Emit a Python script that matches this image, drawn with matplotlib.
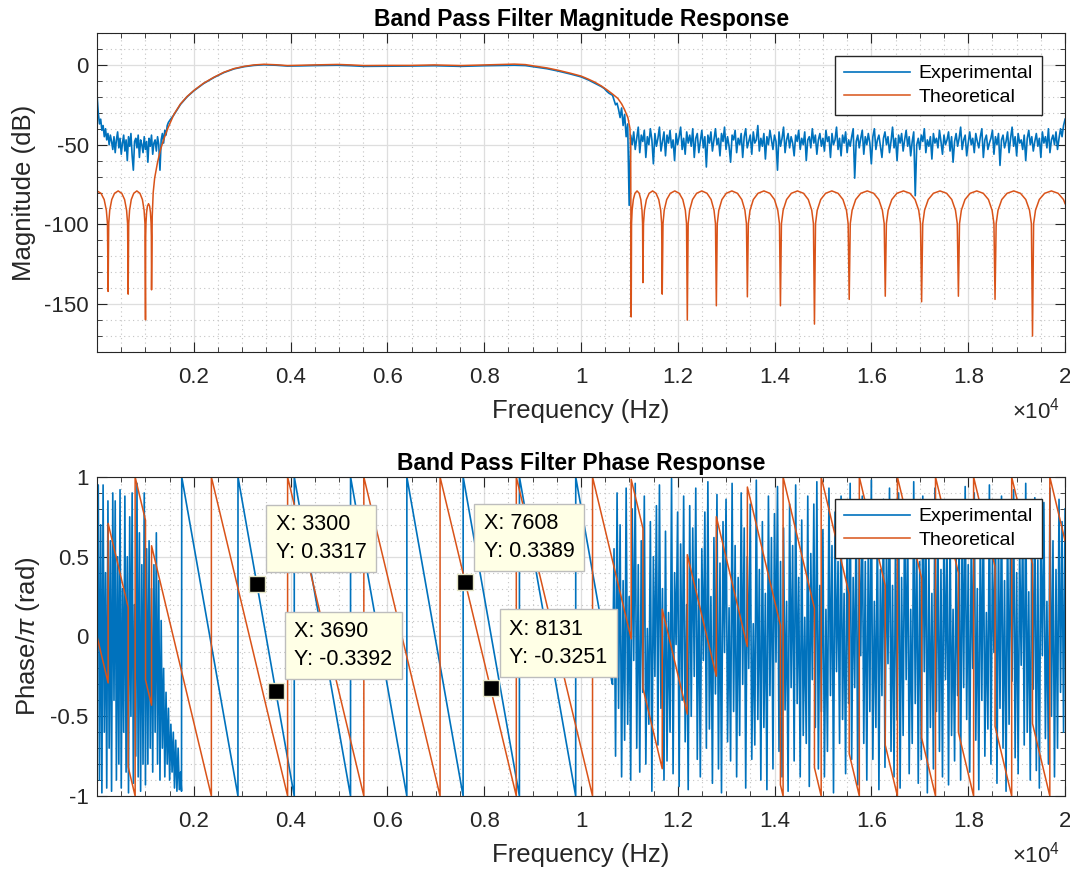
import numpy as np
import matplotlib
matplotlib.use('Agg')
import matplotlib.pyplot as plt
from matplotlib.ticker import MultipleLocator, FuncFormatter

plt.rcParams['font.family'] = ['Liberation Sans', 'DejaVu Sans']
plt.rcParams['font.size'] = 16
plt.rcParams['axes.unicode_minus'] = False
plt.rcParams['mathtext.fontset'] = 'custom'
plt.rcParams['mathtext.rm'] = 'Liberation Sans'
plt.rcParams['mathtext.it'] = 'Liberation Sans:italic'

blue = '#0072BD'
orange = '#D95319'

# ---------------- magnitude (dB) ----------------
# theoretical response: stopband lobes, transition bands and passband ripple
theo_mag_hz = [0, 82, 147, 192, 215, 229,
               241, 262, 304, 361, 436, 511, 569, 610, 631, 643,
               654, 672, 707, 758, 822, 886, 937, 972, 990, 1001,
               1005, 1011, 1024, 1041, 1064, 1086, 1103, 1116, 1122, 1126,
               1140, 1160, 1190, 1250, 1312, 1380, 1450, 1588, 1725, 1860,
               2001, 2200, 2415, 2620, 2829, 3040, 3243, 3449, 3700, 3932,
               4200, 4480, 4966, 5250, 5513, 6000, 6484, 6967, 7519, 8000,
               8622, 8850, 9036, 9300, 9520, 9780, 10002, 10150, 10277, 10420,
               10553, 10660, 10760, 10840, 10898, 10967, 11009, 11025, 11036,
               11043, 11055, 11080, 11113, 11157, 11201, 11234, 11259, 11271, 11278,
               11290, 11310, 11350, 11406, 11478, 11549, 11605, 11645, 11665, 11677,
               11693, 11718, 11770, 11843, 11936, 12029, 12102, 12154, 12179, 12195,
               12213, 12243, 12303, 12387, 12495, 12603, 12687, 12747, 12777, 12795,
               12814, 12846, 12910, 13000, 13116, 13231, 13321, 13385, 13417, 13436,
               13456, 13491, 13559, 13655, 13778, 13900, 13996, 14064, 14099, 14119,
               14140, 14175, 14246, 14344, 14471, 14597, 14695, 14766, 14801, 14822,
               14844, 14879, 14951, 15052, 15181, 15310, 15411, 15483, 15518, 15540,
               15562, 15600, 15674, 15778, 15913, 16047, 16151, 16225, 16263, 16285,
               16308, 16345, 16420, 16525, 16661, 16796, 16901, 16976, 17013, 17036,
               17059, 17097, 17173, 17279, 17416, 17553, 17659, 17735, 17773, 17796,
               17819, 17857, 17932, 18038, 18175, 18311, 18417, 18492, 18530, 18553,
               18576, 18615, 18692, 18801, 18940, 19079, 19188, 19265, 19304, 19327,
               19350, 19389, 19467, 19577, 19717, 19857, 19967, 20000]
theo_mag_db = [-79, -80.5, -84.4, -91.1, -99.5, -142,
               -99.5, -91.1, -84.4, -80.5, -79, -80.5, -84.4, -91.1, -99.5, -143.7,
               -99.5, -91.1, -84.4, -80.5, -79, -80.5, -84.4, -91.1, -99.5, -159.8,
               -107.5, -99, -92.4, -88.5, -87, -88.5, -92.4, -99, -107.5, -141,
               -95, -80, -71, -61, -53, -46.5, -40.6, -31, -24.4, -19.8,
               -16, -11.5, -7.7, -4.6, -2.3, -0.9, 0, 0.4, 0.1, -0.4,
               -0.2, 0, 0.3, 0, -0.4, -0.3, -0.3, 0, -0.4, 0,
               0.5, 0.2, -0.7, -1.9, -3.3, -5.2, -7, -8.9, -10.7, -13.2,
               -16, -18.5, -21, -24.5, -28, -33, -39.6, -52, -158,
               -99.5, -91.1, -84.4, -80.5, -79, -80.5, -84.4, -91.1, -99.5, -136.5,
               -99.5, -91.1, -84.4, -80.5, -79, -80.5, -84.4, -91.1, -99.5, -143.7,
               -99.5, -91.1, -84.4, -80.5, -79, -80.5, -84.4, -91.1, -99.5, -160,
               -99.5, -91.1, -84.4, -80.5, -79, -80.5, -84.4, -91.1, -99.5, -151,
               -99.5, -91.1, -84.4, -80.5, -79, -80.5, -84.4, -91.1, -99.5, -145.4,
               -99.5, -91.1, -84.4, -80.5, -79, -80.5, -84.4, -91.1, -99.5, -151,
               -99.5, -91.1, -84.4, -80.5, -79, -80.5, -84.4, -91.1, -99.5, -162.5,
               -99.5, -91.1, -84.4, -80.5, -79, -80.5, -84.4, -91.1, -99.5, -147,
               -99.5, -91.1, -84.4, -80.5, -79, -80.5, -84.4, -91.1, -99.5, -145,
               -99.5, -91.1, -84.4, -80.5, -79, -80.5, -84.4, -91.1, -99.5, -148.5,
               -99.5, -91.1, -84.4, -80.5, -79, -80.5, -84.4, -91.1, -99.5, -145,
               -99.5, -91.1, -84.4, -80.5, -79, -80.5, -84.4, -91.1, -99.5, -147,
               -99.5, -91.1, -84.4, -80.5, -79, -80.5, -84.4, -91.1, -99.5, -170,
               -99.5, -91.1, -84.4, -80.5, -79, -80.5, -84.4, -87]

# experimental response: low stopband noise (0-1475 Hz, 25 Hz steps)
exp_mag_low = [-19, -30, -37, -34, -41, -38, -45, -40, -47, -43,
               -50, -44, -48, -53, -45, -55, -47, -42, -52, -46,
               -56, -49, -44, -54, -47, -60, -45, -51, -43, -57,
               -66, -48, -46, -52, -44, -58, -47, -50, -55, -45,
               -53, -48, -61, -46, -51, -44, -56, -49, -47, -54,
               -45, -50, -66, -47, -43, -49, -41, -44, -38, -36]
# passband
exp_pass_hz = [1520, 1588, 1725, 1860, 2001, 2200, 2415, 2620, 2829, 3040,
               3243, 3449, 3700, 3932, 4200, 4480, 4966, 5250, 5513, 6000,
               6484, 6967, 7519, 8000, 8622, 8850, 9036, 9300, 9520, 9780,
               10002, 10150, 10277, 10420, 10480, 10530, 10580]
exp_pass_db = [-34, -31.3, -24.7, -20, -16.2, -11.7, -7.9, -4.8, -2.5, -1.1,
               -0.3, 0.1, -0.2, -0.7, -0.6, -0.4, -0.2, -0.5, -0.9, -0.8,
               -0.7, -0.5, -0.9, -0.5, -0.2, -0.4, -1.2, -2.4, -3.8, -5.7,
               -7.5, -9.4, -11.4, -13.6, -14.8, -16.5, -17.8]
# high stopband noise (10650-20000 Hz)
exp_mag_high = [-19, -22, -25, -24, -28, -33, -27, -38, -31, -45,
                -37, -88, -44, -50, -42, -53, -46, -39, -55, -44,
                -48, -41, -58, -45, -50, -40, -47, -62, -43, -51,
                -46, -39, -54, -48, -42, -57, -44, -49, -41, -52,
                -47, -60, -43, -50, -45, -39, -53, -46, -56, -42,
                -49, -44, -51, -40, -58, -46, -43, -55, -48, -41,
                -52, -45, -64, -44, -49, -42, -54, -47, -40, -50,
                -46, -57, -43, -48, -39, -53, -45, -51, -61, -44,
                -47, -41, -55, -46, -50, -43, -58, -45, -40, -52,
                -48, -44, -56, -42, -49, -47, -38, -54, -46, -51,
                -43, -59, -45, -50, -41, -47, -53, -44, -48, -66,
                -42, -51, -46, -39, -55, -47, -43, -52, -45, -49,
                -57, -44, -48, -41, -53, -46, -50, -42, -60, -47,
                -45, -52, -40, -49, -44, -56, -47, -43, -51, -46,
                -54, -41, -48, -45, -58, -43, -50, -47, -39, -53,
                -46, -57, -44, -49, -42, -55, -47, -51, -45, -40,
                -71, -48, -44, -52, -46, -41, -56, -45, -50, -43,
                -49, -62, -45, -40, -53, -47, -44, -51, -58, -46,
                -42, -50, -45, -55, -48, -39, -52, -46, -60, -44,
                -49, -43, -54, -47, -41, -51, -45, -57, -48, -42,
                -82, -50, -46, -53, -44, -48, -40, -55, -47, -51,
                -45, -59, -43, -49, -46, -52, -41, -48, -56, -44,
                -50, -47, -42, -54, -45, -61, -48, -43, -51, -46,
                -39, -53, -47, -44, -57, -49, -42, -50, -46, -55,
                -43, -48, -52, -45, -40, -58, -47, -44, -53, -49,
                -46, -41, -56, -45, -50, -43, -63, -47, -44, -52,
                -48, -42, -55, -46, -39, -51, -45, -57, -43, -49,
                -47, -53, -44, -60, -46, -41, -50, -45, -54, -48,
                -43, -51, -46, -58, -42, -49, -45, -52, -40, -55,
                -47, -44, -50, -42, -53, -46, -40, -45, -38, -34]

# ---------------- phase / pi ----------------
theo_ph_hz = [0, 229, 229, 643, 643, 787, 787, 1001, 1001, 1126, 1126,
              2362, 2362, 3937, 3937, 5512, 5512, 7087, 7087, 8662, 8662,
              10237, 10237, 11036, 11036, 11278, 11278, 11677, 11677, 12195, 12195,
              12795, 12795, 13436, 13436, 14119, 14119, 14174, 14174, 14822, 14822,
              14961, 14961, 15540, 15540, 15749, 15749, 16285, 16285, 16536, 16536,
              17036, 17036, 17323, 17323, 17796, 17796, 18110, 18110, 18553, 18553,
              18897, 18897, 19327, 19327, 19685, 19685, 20000]
theo_ph = [0, -0.291, 0.709, 0.183, -0.817, -1, 1, 0.728, -0.272, -0.431, 0.569,
           -1, 1, -1, 1, -1, 1, -1, 1, -1, 1,
           -1, 1, -0.015, 0.985, 0.678, -0.322, -0.829, 0.171, -0.487, 0.513,
           -0.249, 0.751, -0.063, 0.937, 0.070, -0.930, -1, 1, 0.177, -0.823,
           -1, 1, 0.265, -0.735, -1, 1, 0.319, -0.681, -1, 1,
           0.365, -0.635, -1, 1, 0.399, -0.601, -1, 1, 0.437, -0.563,
           -1, 1, 0.454, -0.546, -1, 1, 0.6]

# experimental: noise 0-1725 Hz
exp_ph_low = [-0.2, 0.95, -0.9, 0.7, -0.98, 0.95, -0.6, 0.4, -0.95, 0.85,
              -0.7, 0.6, -0.97, 0.9, -0.4, 0.85, -0.9, 0.5, -0.8, 0.92,
              -0.95, 0.3, -0.6, 0.88, -0.85, 0.5, -0.98, 0.75, -0.5, 0.9,
              -0.92, 0.2, -0.75, 0.96, -0.88, 0.65, -0.97, 0.45, -0.8, 0.9,
              -0.93, 0.55, -0.8, 0.6, -0.7, 0.3, -0.85, 0.45, -0.6, 0.65,
              -0.8, 0.35, -0.9, 0.1, -0.7, -0.2, -0.88, -0.35, -0.8, -0.45,
              -0.9, -0.55, -0.85, -0.6, -0.95, -0.65, -0.97, -0.7, -0.96, -0.85]
exp_ph_pass_hz = [1745, 1750, 2911, 2912, 4074, 4075, 5237, 5238, 6400, 6401,
                  7563, 7564, 8726, 8727, 9889, 9890, 10640]
exp_ph_pass = [-0.97, 1, -1, 1, -1, 1, -1, 1, -1, 1,
               -1, 1, -1, 1, -1, 1, -0.29]
# noise 10650-20000 Hz
exp_ph_high = [-0.3, 0.55, -0.75, 0.9, -0.45, 0.7, -0.88, 0.35, -0.65, 0.93,
               -0.55, 0.25, -0.9, 0.8, -0.15, 0.96, -0.7, 0.45, -0.85, 0.6,
               -0.35, 0.88, -0.8, 0.05, -0.55, 0.72, -0.97, 0.5, -0.25, 0.82,
               -0.68, 0.95, -0.45, 0.3, -0.9, 0.66, -0.78, 0.15, -0.6, 0.99,
               -0.86, 0.4, -0.05, 0.78, -0.94, 0.58, -0.4, 0.88, -0.66, 0.2,
               -0.96, 0.82, -0.5, 0.68, -0.25, 0.93, -0.77, 0.36, -0.88, 0.55,
               -0.15, 0.78, -0.7, 0.97, -0.58, 0.25, -0.92, 0.62, -0.36, 0.89,
               -0.83, 0.46, -0.98, 0.72, -0.1, 0.86, -0.66, 0.18, -0.78, 0.96,
               -0.47, 0.57, -0.88, 0.37, -0.62, 0.9, -0.3, 0.68, -0.95, 0.5,
               -0.2, 0.83, -0.77, 0.08, -0.68, 0.98, -0.52, 0.42, -0.9, 0.72,
               -0.57, 0.27, -0.96, 0.88, -0.37, 0.62, -0.83, 0.77, -0.16, 0.94,
               -0.72, 0.47, -0.88, 0.68, -0.46, 0.22, -0.97, 0.83, -0.32, 0.57,
               -0.78, 0.95, -0.42, 0.37, -0.88, 0.73, -0.62, 0.12, -0.67, 0.88,
               -0.94, 0.52, -0.27, 0.83, -0.57, 0.97, -0.83, 0.32, -0.47, 0.67,
               -0.88, 0.17, -0.72, 0.93, -0.37, 0.57, -0.98, 0.78, -0.22, 0.47,
               -0.67, 0.88, -0.52, 0.27, -0.86, 0.72, -0.42, 0.96, -0.77, 0.37,
               -0.32, 0.83, -0.93, 0.57, -0.12, 0.88, -0.67, 0.47, -0.9, 0.62,
               -0.47, 0.98, -0.77, 0.22, -0.57, 0.78, -0.96, 0.42, -0.37, 0.86,
               -0.82, 0.57, -0.17, 0.93, -0.72, 0.32, -0.88, 0.67, -0.52, 0.9,
               -0.95, 0.37, -0.62, 0.83, -0.27, 0.72, -0.86, 0.17, -0.67, 0.97,
               -0.42, 0.62, -0.92, 0.47, -0.77, 0.88, -0.22, 0.78, -0.98, 0.52,
               -0.57, 0.27, -0.83, 0.93, -0.47, 0.67, -0.72, 0.42, -0.88, 0.82,
               -0.27, 0.57, -0.93, 0.72, -0.62, 0.17, -0.78, 0.52, -0.37, 0.67,
               -0.9, 0.77, -0.32, 0.94, -0.52, 0.45, -0.85, 0.6, -0.2, 0.9,
               -0.65, 0.3, -0.96, 0.7, -0.4, 0.85, -0.75, 0.15, -0.58, 0.95,
               -0.8, 0.5, -0.1, 0.75, -0.92, 0.62, -0.45, 0.88, -0.7, 0.35,
               -0.97, 0.8, -0.55, 0.66, -0.28, 0.92, -0.76, 0.4, -0.86, 0.58,
               -0.18, 0.74, -0.68, 0.96, -0.6, 0.28, -0.9, 0.64, -0.33, 0.87,
               -0.84, 0.48, -0.95, 0.7, -0.12, 0.84, -0.64, 0.22, -0.8, 0.93,
               -0.5, 0.6, -0.88, 0.42, -0.7, 0.86, -0.35, 0.72, -0.6, 0.8]

# data tips
tip_x = [3300, 3690, 7608, 8131]
tip_y = [0.3317, -0.3392, 0.3389, -0.3251]

# build the experimental curves (noise sampled on an even grid)
exp_mag_hz = np.concatenate([np.linspace(0, 1475, len(exp_mag_low)), exp_pass_hz,
                             np.linspace(10650, 20000, len(exp_mag_high))])
exp_mag_db = np.concatenate([exp_mag_low, exp_pass_db, exp_mag_high])
exp_ph_hz = np.concatenate([np.linspace(0, 1725, len(exp_ph_low)), exp_ph_pass_hz,
                            np.linspace(10650, 20000, len(exp_ph_high))])
exp_ph = np.concatenate([exp_ph_low, exp_ph_pass, exp_ph_high])

txt = '#262626'


def style_axes(ax):
    ax.set_xlim(0, 20000)
    ax.set_xticks(np.arange(2000, 20001, 2000))
    ax.xaxis.set_minor_locator(MultipleLocator(500))
    ax.xaxis.set_major_formatter(FuncFormatter(lambda v, p: '%g' % (v / 1e4)))
    ax.set_axisbelow(True)
    ax.grid(True, which='major', color='#dedede', lw=0.9, ls='-')
    ax.grid(True, which='minor', color='#c4c4c4', lw=0.8, ls=(0, (1, 3)))
    ax.tick_params(which='both', direction='in', top=True, right=True,
                   colors=txt, labelsize=16)
    ax.tick_params(which='major', length=7, width=0.8)
    ax.tick_params(which='minor', length=3.5, width=0.6)
    ax.tick_params(axis='x', which='major', pad=11)
    ax.tick_params(axis='y', which='major', pad=6)
    for s in ax.spines.values():
        s.set_color(txt)
        s.set_linewidth(0.8)
    ax.set_xlabel('Frequency (Hz)', fontsize=18.5, color=txt, labelpad=8)
    ax.text(0.995, -0.208, r'$\times$10$^{4}$', transform=ax.transAxes,
            ha='right', va='baseline', fontsize=16, color=txt)


fig = plt.figure(figsize=(10.7, 8.69), dpi=100)
ax1 = fig.add_axes([0.0907, 0.5949, 0.9047, 0.3671])
ax2 = fig.add_axes([0.0907, 0.0840, 0.9047, 0.3671])

legend_kw = dict(loc='upper right', borderaxespad=0, fancybox=False,
                 edgecolor=txt, framealpha=1, fontsize=14, handlelength=3.4,
                 handletextpad=0.45, labelspacing=0.3, borderpad=0.45)

# magnitude
ax1.plot(exp_mag_hz, exp_mag_db, color=blue, lw=1.2, label='Experimental')
ax1.plot(theo_mag_hz, theo_mag_db, color=orange, lw=1.1, label='Theoretical')
style_axes(ax1)
ax1.set_ylim(-180, 20)
ax1.set_yticks([-150, -100, -50, 0])
ax1.yaxis.set_minor_locator(MultipleLocator(10))
ax1.set_ylabel('Magnitude (dB)', fontsize=18.5, color=txt, labelpad=6)
ax1.set_title('Band Pass Filter Magnitude Response', fontsize=16.5,
              fontweight='bold', pad=5)
ax1.legend(bbox_to_anchor=(0.976, 0.928), **legend_kw)

# phase
ax2.plot(exp_ph_hz, exp_ph, color=blue, lw=1.2, label='Experimental')
ax2.plot(theo_ph_hz, theo_ph, color=orange, lw=1.1, label='Theoretical')
style_axes(ax2)
ax2.set_ylim(-1, 1)
ax2.set_yticks([-1, -0.5, 0, 0.5, 1])
ax2.yaxis.set_major_formatter(FuncFormatter(lambda v, p: '%g' % v))
ax2.yaxis.set_minor_locator(MultipleLocator(0.1))
ax2.set_ylabel(r'Phase/$\pi$ (rad)', fontsize=18.5, color=txt, labelpad=6)
ax2.set_title('Band Pass Filter Phase Response', fontsize=16.5,
              fontweight='bold', pad=5)
ax2.legend(bbox_to_anchor=(0.976, 0.931), **legend_kw)

ax2.plot(tip_x, tip_y, ls='none', marker='s', ms=12, mfc='black',
         mec='#e6e6c8', mew=1.0, zorder=5)
for tx, ty in zip(tip_x, tip_y):
    ax2.annotate('X: %d\nY: %.4f' % (tx, ty), xy=(tx, ty), xytext=(13.5, 15),
                 textcoords='offset points', ha='left', va='bottom',
                 fontsize=15.5, linespacing=1.4, color='black', zorder=6,
                 bbox=dict(boxstyle='square,pad=0.45', fc='#ffffe6',
                           ec='#bdbdbd', lw=1.0))

fig.savefig('out.png', dpi=100)
